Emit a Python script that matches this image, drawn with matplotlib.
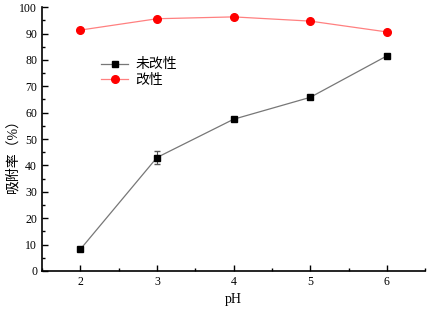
import matplotlib
matplotlib.use("Agg")
import matplotlib.pyplot as plt
from matplotlib.ticker import MultipleLocator

plt.rcParams['font.family'] = ['Liberation Serif', 'Noto Sans CJK SC']

ph = [2, 3, 4, 5, 6]
unmodified = [8.2, 43.0, 57.5, 65.8, 81.5]
unmodified_err = [0.3, 2.5, 0.5, 0.5, 0.5]
modified = [91.3, 95.6, 96.3, 94.7, 90.6]
modified_err = [0.3, 0.3, 0.3, 0.3, 0.3]
labels = ['未改性', '改性']

fig = plt.figure(figsize=(4.29, 3.10), dpi=100)
ax = fig.add_axes([0.098, 0.126, 0.893, 0.851])

ax.errorbar(ph, unmodified, yerr=unmodified_err, fmt='none', ecolor='#555555',
            elinewidth=0.8, capsize=2)
l1, = ax.plot(ph, unmodified, color='#777777', lw=0.9,
              marker='s', ms=5, mfc='black', mec='black', label=labels[0])
ax.errorbar(ph, modified, yerr=modified_err, fmt='none', ecolor='#ff8080',
            elinewidth=0.8, capsize=2)
l2, = ax.plot(ph, modified, color='#ff8080', lw=0.9,
              marker='o', ms=5.5, mfc='red', mec='red', label=labels[1])

ax.set_xlim(1.5, 6.5)
ax.set_ylim(0, 100)
ax.xaxis.set_major_locator(MultipleLocator(1))
ax.xaxis.set_minor_locator(MultipleLocator(0.5))
ax.yaxis.set_major_locator(MultipleLocator(10))
ax.yaxis.set_minor_locator(MultipleLocator(5))
ax.tick_params(which='both', direction='in', labelsize=8.5)
ax.tick_params(which='major', length=4, width=1)
ax.tick_params(which='minor', length=2.5, width=1)
for s in ['top', 'right']:
    ax.spines[s].set_visible(False)
for s in ['left', 'bottom']:
    ax.spines[s].set_linewidth(1.2)

ax.set_xlabel('pH', fontsize=10, labelpad=4)
ax.set_ylabel('吸附率（%）', fontsize=10)
ax.yaxis.set_label_coords(-0.06, 0.45)

leg = ax.legend(handles=[l1, l2], loc='upper left', bbox_to_anchor=(0.135, 0.832),
                frameon=False, fontsize=10, handlelength=2.0, handletextpad=0.5,
                labelspacing=0.2, borderpad=0)

fig.savefig('out.png', dpi=100)
